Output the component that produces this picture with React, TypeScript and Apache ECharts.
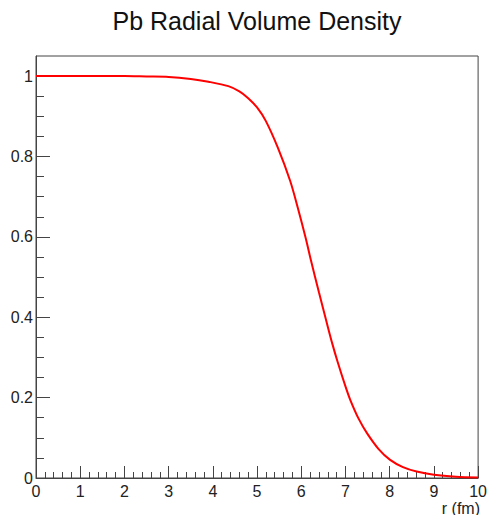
import React, { useEffect, useRef } from "react";
import * as echarts from "echarts";

const rValues = [0, 0.5, 1, 1.5, 2, 2.5, 3, 3.5, 3.9, 4.35, 4.6, 4.8, 5.0, 5.2, 5.47, 5.75, 5.92, 6.1, 6.22, 6.4, 6.58, 6.7, 6.82, 7.0, 7.11, 7.3, 7.49, 7.75, 8.01, 8.3, 8.61, 9.0, 9.5, 10];
const densityValues = [1.0, 1.0, 1.0, 1.0, 1.0, 0.999, 0.998, 0.993, 0.986, 0.975, 0.962, 0.945, 0.922, 0.888, 0.822, 0.739, 0.673, 0.597, 0.541, 0.462, 0.385, 0.335, 0.29, 0.228, 0.194, 0.147, 0.111, 0.072, 0.045, 0.027, 0.016, 0.008, 0.003, 0.001];
const yMajorTicks = [0, 0.2, 0.4, 0.6, 0.8, 1.0];
const yMinorTicks = [0.05, 0.1, 0.15, 0.25, 0.3, 0.35, 0.45, 0.5, 0.55, 0.65, 0.7, 0.75, 0.85, 0.9, 0.95];
const titleText = "Pb Radial Volume Density";
const xAxisTitle = "r (fm)";

export default function App() {
  const ref = useRef<HTMLDivElement>(null);
  useEffect(() => {
    if (!ref.current) return;
    const chart = echarts.init(ref.current, null, { renderer: "svg" });
    const font = "'Liberation Sans', Arial, sans-serif";
    const axisColor = "#444";
    chart.setOption({
      animation: false,
      backgroundColor: "#fff",
      textStyle: { fontFamily: font },
      grid: { left: 36, right: 9, top: 56, bottom: 37, show: true, borderColor: axisColor, borderWidth: 1, backgroundColor: "transparent" },
      graphic: [
        { type: "text", x: 257, y: 21, style: { text: titleText, font: `25px ${font}`, fill: "#111", textAlign: "center", textVerticalAlign: "middle" } },
        { type: "text", x: 480, y: 508, style: { text: xAxisTitle, font: `16px ${font}`, fill: "#222", textAlign: "right", textVerticalAlign: "middle" } },
      ],
      xAxis: {
        type: "value", min: 0, max: 10, interval: 1,
        axisLine: { show: true, lineStyle: { color: axisColor, width: 1 } },
        axisTick: { show: true, inside: true, length: 12, lineStyle: { color: axisColor } },
        minorTick: { show: true, splitNumber: 5, length: 6, lineStyle: { color: axisColor } },
        axisLabel: { color: "#222", fontSize: 16, margin: 5, fontFamily: font },
        splitLine: { show: false },
      },
      yAxis: [
        {
          type: "value", min: 0, max: 1.05,
          axisLine: { show: true, lineStyle: { color: axisColor, width: 1 } },
          axisTick: { show: true, inside: true, length: 14, customValues: yMajorTicks, lineStyle: { color: axisColor } },
          axisLabel: { color: "#222", fontSize: 16, margin: 3, customValues: yMajorTicks, fontFamily: font, formatter: (v: number) => String(Math.round(v * 10) / 10) },
          splitLine: { show: false },
        },
        {
          type: "value", min: 0, max: 1.05, position: "left",
          axisLine: { show: false },
          axisTick: { show: true, inside: true, length: 8, customValues: yMinorTicks, lineStyle: { color: axisColor } },
          axisLabel: { show: false },
          splitLine: { show: false },
        },
      ],
      series: [
        {
          type: "line",
          yAxisIndex: 0,
          data: rValues.map((r, i) => [r, densityValues[i]]),
          showSymbol: false,
          smooth: 0.3,
          lineStyle: { color: "#ff0000", width: 2 },
          itemStyle: { color: "#ff0000" },
        },
      ],
    });
    return () => chart.dispose();
  }, []);
  return <div ref={ref} style={{ position: "fixed", left: 0, top: 0, width: 490, height: 515 }} />;
}
